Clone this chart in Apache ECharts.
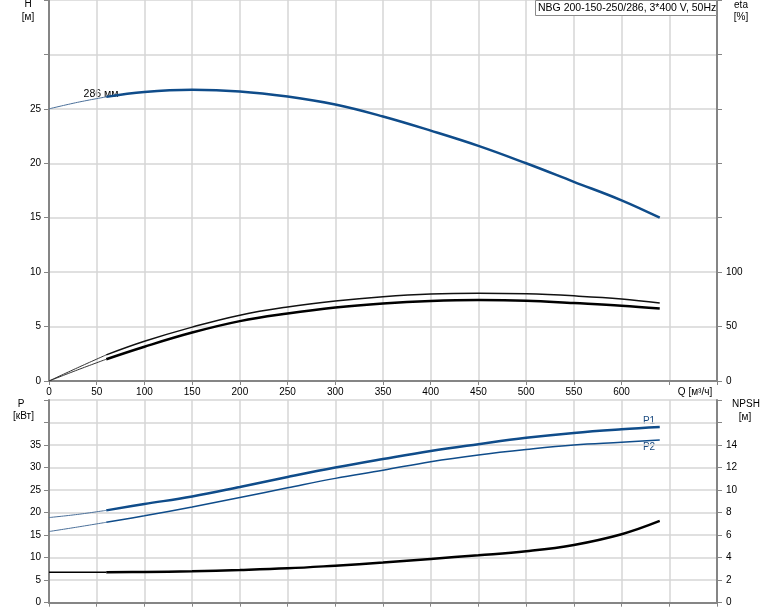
<!DOCTYPE html>
<html><head><meta charset="utf-8">
<script src="https://cdn.jsdelivr.net/npm/echarts@6/dist/echarts.min.js"></script>
<style>html,body{margin:0;padding:0;background:#fff}#c{width:774px;height:611px}</style>
</head><body><div id="c"></div>
<script>
// ---- data ----
const qMain = [60,100,150,200,250,300,350,400,450,500,550,600,640];
const qExt  = [0,30,60];
const hMain = [26.1,26.55,26.75,26.6,26.13,25.4,24.3,23.0,21.6,20.0,18.3,16.6,15.0];
const hExt  = [25.0,25.6,26.1];
const etaPumpMain  = [24,36.5,49.5,60.5,68,73.5,77.5,80,80.7,80.1,78.2,75.4,71.7];
const etaPumpExt   = [0,12.2,24];
const etaTotalMain = [20,31.5,44.5,55,62,67.5,71.2,73.5,74.4,73.8,71.6,69.2,66.5];
const etaTotalExt  = [0,10.2,20];
const p1Main = [20.5,21.9,23.6,25.7,27.9,30.0,31.9,33.7,35.2,36.6,37.7,38.5,39.0];
const p1Ext  = [18.9,19.6,20.5];
const p2Main = [17.85,19.3,21.25,23.35,25.5,27.6,29.4,31.3,32.8,34.0,35.0,35.6,36.1];
const p2Ext  = [15.8,16.8,17.85];
const npshMain = [2.7,2.73,2.79,2.9,3.05,3.29,3.56,3.89,4.21,4.57,5.13,6.08,7.26];
const npshExt  = [2.7,2.7,2.7];
const xTickLabels = ['0','50','100','150','200','250','300','350','400','450','500','550','600'];
const hTickLabels = ['0','5','10','15','20','25'];
const etaTickLabels = ['0','50','100'];
const pTickLabels = ['0','5','10','15','20','25','30','35'];
const npshTickLabels = ['0','2','4','6','8','10','12','14'];
const title = 'NBG 200-150-250/286, 3*400 V, 50Hz';

const zip = (xs, ys) => xs.map((x,i)=>[x,ys[i]]);
const FONT = 'Liberation Sans, Arial, sans-serif';
const BLUE = '#0f4c8a';
const AXC = '#858585';
const GRIDC = '#d6d6d6';

function xAx(gi, show){
  return {type:'value', gridIndex:gi, min:0, max:700, interval:50,
    axisLine:{show:true, onZero:false, lineStyle:{color:AXC, width:2}},
    axisTick:{show:true, length:4, lineStyle:{color:AXC}},
    axisLabel:{show:show, margin:6, color:'#000', fontSize:10, fontFamily:FONT,
      formatter:v=> xTickLabels.includes(String(v)) ? String(v) : ''},
    splitLine:{show:true, lineStyle:{color:GRIDC, width:1.5}}};
}
function yAx(gi, pos, max, interval, labels, split){
  return {type:'value', gridIndex:gi, position:pos, min:0, max:max, interval:interval,
    axisLine:{show:true, lineStyle:{color:AXC, width:2}},
    axisTick:{show:true, length:5, lineStyle:{color:AXC}},
    axisLabel:{margin: pos==='left'?8:9, color:'#000', fontSize:10, fontFamily:FONT,
      formatter:v=> labels.includes(String(v)) ? String(v) : ''},
    splitLine:{show:split, lineStyle:{color:GRIDC, width:1.5}}};
}
function line(name, xi, yi, data, color, width){
  return {name, type:'line', xAxisIndex:xi, yAxisIndex:yi, data, smooth:0.4,
    symbol:'none', lineStyle:{color, width}, silent:true, animation:false};
}
function txt(x,y,t,align,color,size){
  return {type:'text', x, y, style:{text:t, fill:color||'#000', font:(size||10)+'px '+FONT,
    textAlign:align||'center', textVerticalAlign:'middle'}};
}

const chart = echarts.init(document.getElementById('c'), null, {renderer:'canvas'});
chart.setOption({
  animation:false,
  grid:[{left:49, right:57, top:0, height:381},
        {left:49, right:57, top:400, height:202.7}],
  xAxis:[xAx(0,true), xAx(1,false)],
  yAxis:[yAx(0,'left',35,5,hTickLabels,true),
         yAx(0,'right',350,50,etaTickLabels,false),
         yAx(1,'left',45,5,pTickLabels,true),
         yAx(1,'right',18,2,npshTickLabels,false)],
  series:[
    line('H ext',0,0,zip(qExt,hExt),'#4a6f99',1),
    line('H',0,0,zip(qMain,hMain),BLUE,2.5),
    line('eta pump ext',0,1,zip(qExt,etaPumpExt),'#333',1),
    line('eta pump',0,1,zip(qMain,etaPumpMain),'#111',1.5),
    line('eta total ext',0,1,zip(qExt,etaTotalExt),'#333',1),
    line('eta total',0,1,zip(qMain,etaTotalMain),'#000',2.5),
    line('P1 ext',1,2,zip(qExt,p1Ext),'#4a6f99',1),
    line('P1',1,2,zip(qMain,p1Main),BLUE,2.5),
    line('P2 ext',1,2,zip(qExt,p2Ext),'#4a6f99',1),
    line('P2',1,2,zip(qMain,p2Main),BLUE,1.5),
    line('NPSH ext',1,3,zip(qExt,npshExt),'#000',1.5),
    line('NPSH',1,3,zip(qMain,npshMain),'#000',2.5)
  ],
  graphic:[
    {type:'rect', shape:{x:535.5, y:0.5, width:181, height:15},
     style:{fill:'#fff', stroke:'#8a8a8a', lineWidth:1}, z:100},
    {type:'text', x:538, y:8, z:101, style:{text:title, fill:'#000', font:'10.5px '+FONT,
      textAlign:'left', textVerticalAlign:'middle'}},
    txt(28,4,'H'), txt(28,17,'[м]'),
    txt(741,5,'eta'), txt(741,17,'[%]'),
    txt(21,404,'P'), txt(23.5,416,'[кВт]'),
    txt(746,404,'NPSH'), txt(745,417,'[м]'),
    txt(695,392,'Q [м³/ч]'),
    txt(101,94,'286 мм',null,'#000',10.5),
    txt(649,421.5,'P1',null,'#1a4a80'), txt(649,447.5,'P2',null,'#1a4a80')
  ]
});
</script></body></html>
